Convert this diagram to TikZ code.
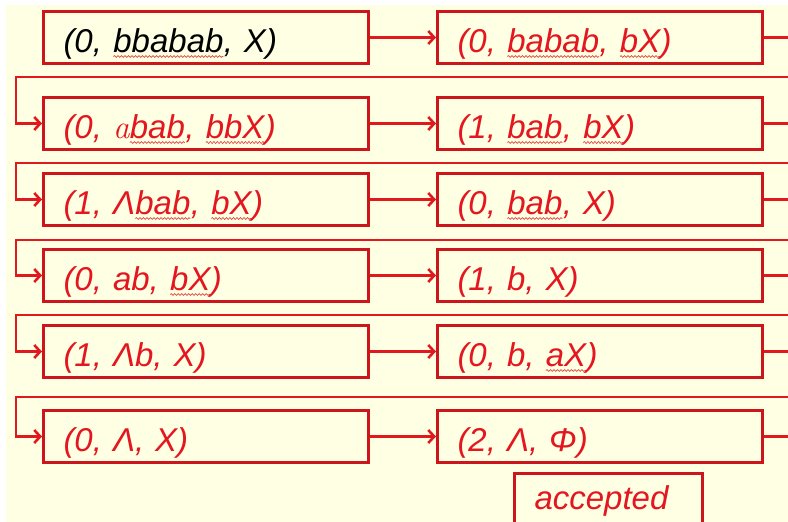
\documentclass[tikz,border=0pt]{standalone}
\usepackage{fontspec}
\setmainfont{Liberation Sans}
\newfontfamily\lmrfont{Latin Modern Roman}
\usetikzlibrary{arrows.meta,calc,decorations.pathmorphing}
\definecolor{bgyel}{RGB}{255,255,228}
\definecolor{boxred}{RGB}{205,22,28}
\definecolor{lnred}{RGB}{225,24,30}
\definecolor{txtred}{RGB}{228,22,32}
\definecolor{sqred}{RGB}{225,70,70}
\newcommand\sq[1]{\tikz[baseline=(w.base)]{\node[inner sep=0pt,outer sep=0pt,anchor=base west] (w) at (0pt,0pt) {#1};
  \draw[sqred, line width=0.7pt, decorate, decoration={snake,amplitude=0.9pt,segment length=3.5pt}]
   ($(w.base west)+(0pt,-4pt)$) -- ($(w.base east)+(0pt,-4pt)$);}}
\tikzset{
  statebox/.style={draw=boxred, line width=3pt, rectangle, inner xsep=20pt, inner ysep=0pt,
    text width=285pt, align=left, text height=41pt, text depth=11pt,
    font=\fontsize{33pt}{38pt}\selectfont\itshape, text=txtred, anchor=north west},
  conn/.style={draw=lnred, line width=2.6pt},
  arr/.style={conn, -{Straight Barb[length=6pt,width=13pt]}},
}
\begin{document}
\begin{tikzpicture}[x=1pt,y=-1pt]
\useasboundingbox (0,0) rectangle (788,522);
\clip (0,0) rectangle (788,522);
\fill[white] (0,0) rectangle (788,522);
\fill[bgyel] (6,5) rectangle (790,525);
% left column
\node[statebox, text=black] (L1) at (42,10) {(0, \sq{bbabab}, X)};
\node[statebox] (L2) at (42,96) {(0, {\lmrfont\itshape a}\sq{bab}, \sq{bbX})};
\node[statebox] (L3) at (42,172) {(1, Λ\sq{bab}, \sq{bX})};
\node[statebox] (L4) at (42,248) {(0, ab, \sq{bX})};
\node[statebox] (L5) at (42,324) {(1, Λb, X)};
\node[statebox] (L6) at (42,409) {(0, Λ, X)};
% right column
\node[statebox] (R1) at (436,10) {(0, \sq{babab}, \sq{bX})};
\node[statebox] (R2) at (436,96) {(1, \sq{bab}, \sq{bX})};
\node[statebox] (R3) at (436,172) {(0, \sq{bab}, X)};
\node[statebox] (R4) at (436,248) {(1, b, X)};
\node[statebox] (R5) at (436,324) {(0, b, \sq{aX})};
\node[statebox] (R6) at (436,409) {(2, Λ, Φ)};
% accepted
\node[statebox, text width=148pt, text height=36pt, text depth=26pt] (acc) at (513,472) {accepted};
% horizontal arrows
\coordinate (E) at (792,0);
\foreach \i in {1,...,6} {
  \draw[arr] (L\i.east) -- (R\i.west);
  \draw[conn] (R\i.east) -- (R\i.east -| E);
}
% return lines
\coordinate (r1) at (792,77);  \coordinate (c1) at (16,77);
\coordinate (r2) at (792,163); \coordinate (c2) at (16,163);
\coordinate (r3) at (792,240); \coordinate (c3) at (16,240);
\coordinate (r4) at (792,315); \coordinate (c4) at (16,315);
\coordinate (r5) at (792,397); \coordinate (c5) at (16,397);
\draw[arr] (r1) -- (c1) |- (L2.west);
\draw[arr] (r2) -- (c2) |- (L3.west);
\draw[arr] (r3) -- (c3) |- (L4.west);
\draw[arr] (r4) -- (c4) |- (L5.west);
\draw[arr] (r5) -- (c5) |- (L6.west);
\end{tikzpicture}
\end{document}
